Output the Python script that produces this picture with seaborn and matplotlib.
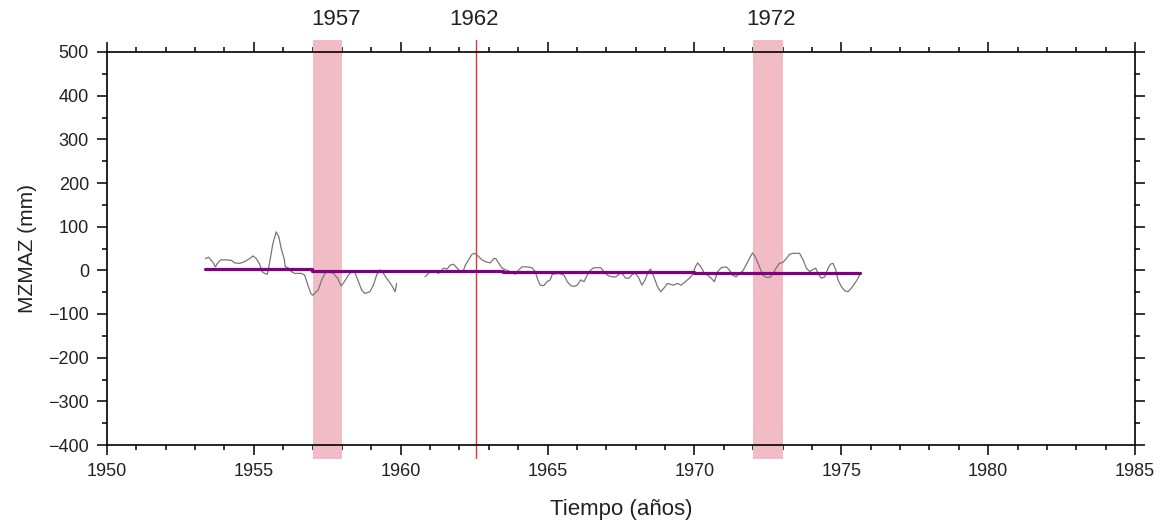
import numpy as np
import pandas as pd
import matplotlib
matplotlib.use("Agg")
import matplotlib.pyplot as plt
from matplotlib.ticker import MultipleLocator
import seaborn as sns

# ---- data ----
seg1_years = [1953.35, 1953.46, 1953.61, 1953.69, 1953.76, 1953.87, 1954.01, 1954.23, 1954.35,
              1954.52, 1954.69, 1954.86, 1954.97, 1955.08, 1955.20, 1955.28, 1955.37, 1955.46,
              1955.51, 1955.57, 1955.65, 1955.76, 1955.85, 1955.93, 1956.03, 1956.07, 1956.16,
              1956.28, 1956.39, 1956.62, 1956.73, 1956.84, 1956.94, 1957.01, 1957.19, 1957.31,
              1957.42, 1957.53, 1957.71, 1957.85, 1957.97, 1958.08, 1958.22, 1958.33, 1958.44,
              1958.56, 1958.67, 1958.78, 1958.95, 1959.07, 1959.18, 1959.29, 1959.41, 1959.52,
              1959.69, 1959.81, 1959.86]
seg1_values = [27, 30, 18, 8, 16, 24, 24, 23, 17,
               16, 20, 27, 33, 27, 14, -3, -7, -9,
               8, 31, 62, 88, 77, 50, 27, 8, 6,
               -3, -7, -7, -11, -34, -53, -57, -45, -22,
               -7, -3, -7, -18, -36, -26, -11, -3, -5,
               -26, -45, -53, -49, -34, -11, 1, -7, -18,
               -34, -49, -30]

seg2_years = [1960.83, 1961.00, 1961.18, 1961.29, 1961.46, 1961.58, 1961.69, 1961.80, 1961.92,
              1962.03, 1962.11, 1962.20, 1962.31, 1962.43, 1962.54, 1962.66, 1962.77, 1962.88,
              1963.05, 1963.17, 1963.24, 1963.34, 1963.45, 1963.59, 1963.73, 1963.90, 1964.02,
              1964.13, 1964.30, 1964.47, 1964.58, 1964.67, 1964.75, 1964.87, 1964.98, 1965.09,
              1965.16, 1965.39, 1965.56, 1965.67, 1965.79, 1965.90, 1966.01, 1966.13, 1966.24,
              1966.35, 1966.47, 1966.58, 1966.81, 1966.92, 1967.03, 1967.20, 1967.32, 1967.43,
              1967.52, 1967.66, 1967.77, 1967.89, 1968.00, 1968.11, 1968.21, 1968.32, 1968.43,
              1968.51, 1968.62, 1968.74, 1968.85, 1968.96, 1969.08, 1969.28, 1969.43, 1969.54,
              1969.69, 1969.83, 1969.94, 1970.03, 1970.11, 1970.22, 1970.34, 1970.45, 1970.57,
              1970.68, 1970.79, 1970.91, 1971.08, 1971.19, 1971.30, 1971.42, 1971.53, 1971.64,
              1971.76, 1971.87, 1971.98, 1972.07, 1972.19, 1972.33, 1972.44, 1972.57, 1972.67,
              1972.78, 1972.89, 1973.01, 1973.13, 1973.24, 1973.36, 1973.58, 1973.70, 1973.81,
              1973.93, 1974.01, 1974.13, 1974.21, 1974.32, 1974.44, 1974.55, 1974.63, 1974.72,
              1974.81, 1974.89, 1975.00, 1975.12, 1975.23, 1975.34, 1975.46, 1975.57, 1975.65]
seg2_values = [-15, -3, -3, -7, 5, 3, 12, 14, 5,
               -3, -5, 12, 24, 37, 39, 31, 24, 20,
               17, 27, 27, 16, 5, 1, -3, -9, 1,
               8, 8, 6, -3, -22, -34, -35, -26, -22,
               -9, -7, -11, -26, -35, -37, -34, -22, -26,
               -11, 1, 6, 6, -3, -11, -15, -15, -9,
               -6, -18, -18, -9, -7, -18, -34, -22, -3,
               3, -15, -37, -49, -41, -30, -34, -30, -34,
               -26, -18, -9, 8, 17, 8, -7, -11, -18,
               -26, -3, 6, 8, 1, -11, -15, -7, -2,
               12, 27, 40, 31, 12, -11, -16, -16, -9,
               5, 16, 18, 27, 37, 39, 39, 24, 5,
               -3, 1, 5, -7, -18, -15, 5, 14, 16,
               1, -22, -37, -47, -49, -41, -30, -18, -7]

step_edges = [1953.34, 1956.98, 1963.48, 1969.99, 1975.64]
step_values = [3, -1, -4, -7]

band_starts = [1957.0, 1972.0]
band_ends = [1958.0, 1973.0]
event_year = 1962.55
top_labels = ["1957", "1962", "1972"]
top_label_x = [1957.8, 1962.5, 1972.6]

# ---- build table ----
df = pd.DataFrame({
    "year": seg1_years + seg2_years,
    "value": seg1_values + seg2_values,
    "segment": [1] * len(seg1_years) + [2] * len(seg2_years),
})
step_df = pd.DataFrame({"year": step_edges, "value": step_values + [step_values[-1]]})

sns.set_style("ticks")
plt.rcParams["font.family"] = ["Liberation Sans", "DejaVu Sans"]

fig = plt.figure(figsize=(11.61, 5.23), dpi=100)
ax = fig.add_axes([107 / 1161, 78 / 523, (1135 - 107) / 1161, (445 - 52) / 523])

band_color = "#F2BCC6"
for s, e in zip(band_starts, band_ends):
    ax.axvspan(s, e, ymin=-0.036, ymax=1.03, color=band_color, lw=0, clip_on=False, zorder=1)
ax.axvline(event_year, ymin=-0.033, ymax=1.03, color="#EE3040", lw=1.0, clip_on=False, zorder=2)

sns.lineplot(data=df, x="year", y="value", units="segment", estimator=None,
             color="#777777", lw=0.9, ax=ax, zorder=3, legend=False)
sns.lineplot(data=step_df, x="year", y="value", drawstyle="steps-post",
             color="#800080", lw=2.3, ax=ax, zorder=4, legend=False)

ax.set_xlim(1950, 1985)
ax.set_ylim(-400, 500)
ax.xaxis.set_major_locator(MultipleLocator(5))
ax.xaxis.set_minor_locator(MultipleLocator(1))
ax.yaxis.set_major_locator(MultipleLocator(100))
ax.yaxis.set_minor_locator(MultipleLocator(50))
ax.tick_params(which="both", direction="out", top=True, right=True, color="black",
               labelsize=13, labelcolor="#222222")
ax.tick_params(which="major", length=7, width=1.1, pad=6)
ax.tick_params(which="minor", length=3.5, width=1.1)
for sp in ax.spines.values():
    sp.set_visible(True)
    sp.set_linewidth(1.2)
    sp.set_color("black")

ax.set_xlabel("Tiempo (años)", fontsize=16, labelpad=14, color="#222222")
ax.set_ylabel("MZMAZ (mm)", fontsize=15, labelpad=8, color="#222222")

for lab, xv in zip(top_labels, top_label_x):
    ax.text(xv, 1.055, lab, transform=ax.get_xaxis_transform(), ha="center", va="bottom",
            fontsize=16, color="#222222")

fig.savefig("out.png", dpi=100)
